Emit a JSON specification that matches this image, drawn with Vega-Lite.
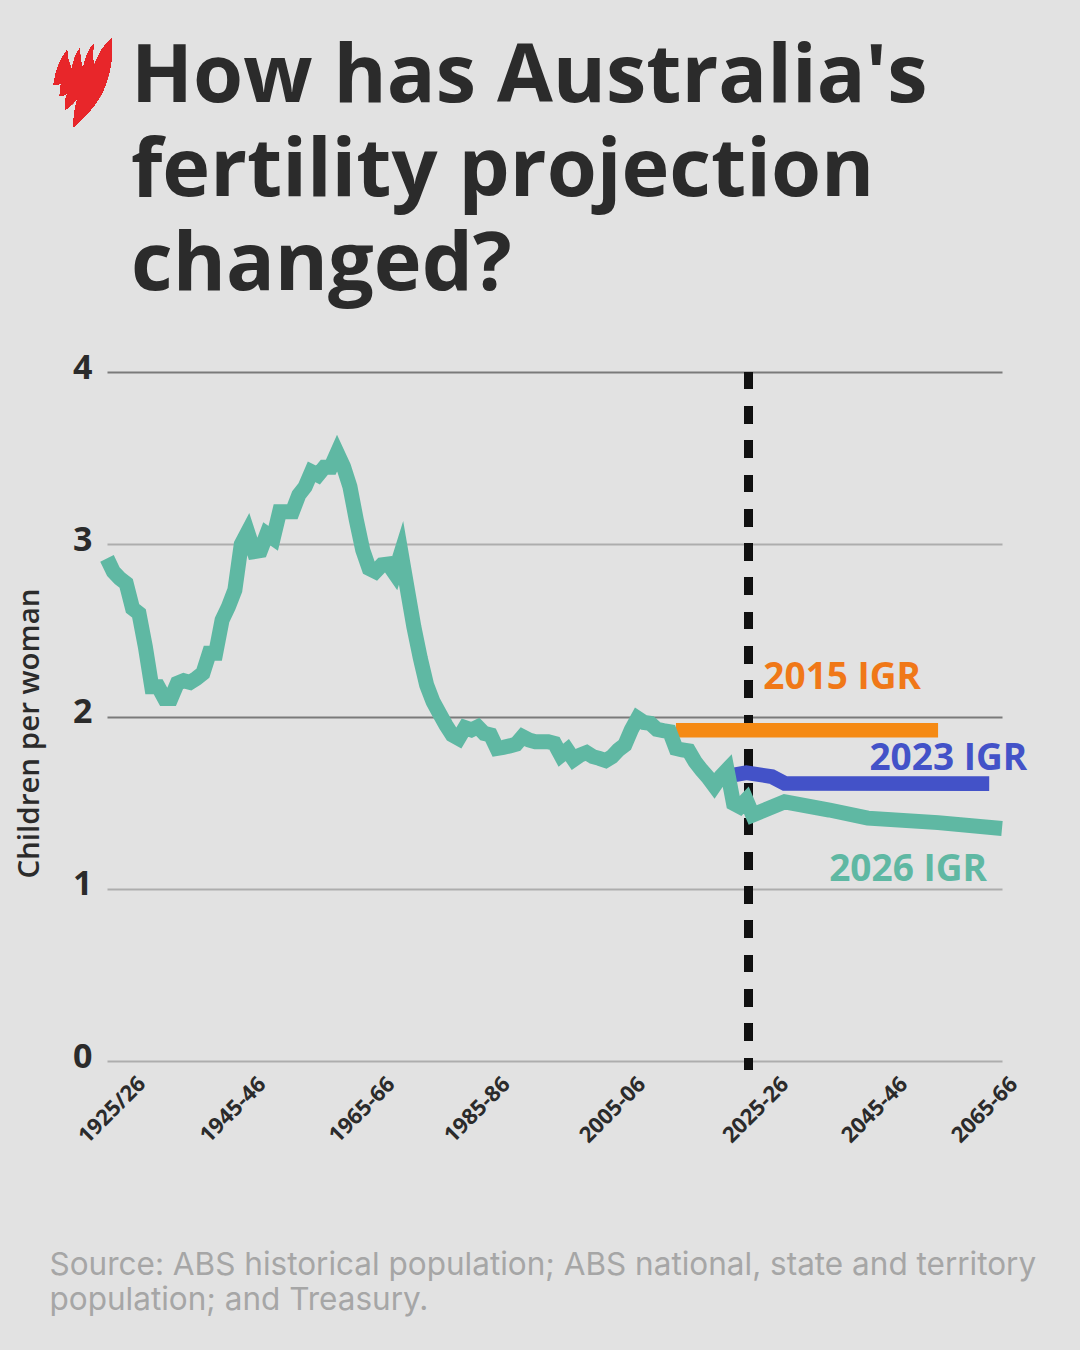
{
  "$schema": "https://vega.github.io/schema/vega-lite/v6.json",
  "description": "Australia's fertility projections, 2015, 2023 and 2026 IGR",
  "width": 895,
  "height": 689,
  "autosize": "none",
  "padding": {"left": 107, "top": 372, "right": 78, "bottom": 289},
  "background": "#e2e2e2",
  "config": {"view": {"stroke": null}},
  "title": {
    "text": ["How has Australia's", "fertility projection", "changed?"],
    "anchor": "start",
    "frame": "group",
    "dx": 24,
    "offset": -269,
    "font": "Open Sans",
    "fontWeight": 700,
    "fontSize": 81,
    "lineHeight": 94,
    "color": "#2b2b2b"
  },
  "datasets": {
    "fertility": [
      {"series": "2015 IGR", "year": 2014, "rate": 1.92},
      {"series": "2015 IGR", "year": 2055, "rate": 1.92},
      {"series": "2023 IGR", "year": 2023, "rate": 1.66},
      {"series": "2023 IGR", "year": 2025, "rate": 1.674},
      {"series": "2023 IGR", "year": 2029, "rate": 1.651},
      {"series": "2023 IGR", "year": 2031, "rate": 1.612},
      {"series": "2023 IGR", "year": 2063, "rate": 1.61},
      {"series": "2026 IGR", "year": 1925, "rate": 2.918},
      {"series": "2026 IGR", "year": 1926, "rate": 2.841},
      {"series": "2026 IGR", "year": 1927, "rate": 2.802},
      {"series": "2026 IGR", "year": 1928, "rate": 2.773},
      {"series": "2026 IGR", "year": 1929, "rate": 2.628},
      {"series": "2026 IGR", "year": 1930, "rate": 2.599},
      {"series": "2026 IGR", "year": 1931, "rate": 2.405},
      {"series": "2026 IGR", "year": 1932, "rate": 2.173},
      {"series": "2026 IGR", "year": 1933, "rate": 2.173},
      {"series": "2026 IGR", "year": 1934, "rate": 2.105},
      {"series": "2026 IGR", "year": 1935, "rate": 2.105},
      {"series": "2026 IGR", "year": 1936, "rate": 2.193},
      {"series": "2026 IGR", "year": 1937, "rate": 2.208},
      {"series": "2026 IGR", "year": 1938, "rate": 2.198},
      {"series": "2026 IGR", "year": 1939, "rate": 2.222},
      {"series": "2026 IGR", "year": 1940, "rate": 2.251},
      {"series": "2026 IGR", "year": 1941, "rate": 2.367},
      {"series": "2026 IGR", "year": 1942, "rate": 2.367},
      {"series": "2026 IGR", "year": 1943, "rate": 2.56},
      {"series": "2026 IGR", "year": 1944, "rate": 2.638},
      {"series": "2026 IGR", "year": 1945, "rate": 2.734},
      {"series": "2026 IGR", "year": 1946, "rate": 3.0},
      {"series": "2026 IGR", "year": 1947, "rate": 3.07},
      {"series": "2026 IGR", "year": 1948, "rate": 2.957},
      {"series": "2026 IGR", "year": 1949, "rate": 2.963},
      {"series": "2026 IGR", "year": 1950, "rate": 3.06},
      {"series": "2026 IGR", "year": 1951, "rate": 3.034},
      {"series": "2026 IGR", "year": 1952, "rate": 3.189},
      {"series": "2026 IGR", "year": 1953, "rate": 3.189},
      {"series": "2026 IGR", "year": 1954, "rate": 3.189},
      {"series": "2026 IGR", "year": 1955, "rate": 3.286},
      {"series": "2026 IGR", "year": 1956, "rate": 3.334},
      {"series": "2026 IGR", "year": 1957, "rate": 3.421},
      {"series": "2026 IGR", "year": 1958, "rate": 3.402},
      {"series": "2026 IGR", "year": 1959, "rate": 3.447},
      {"series": "2026 IGR", "year": 1960, "rate": 3.447},
      {"series": "2026 IGR", "year": 1961, "rate": 3.53},
      {"series": "2026 IGR", "year": 1962, "rate": 3.45},
      {"series": "2026 IGR", "year": 1963, "rate": 3.334},
      {"series": "2026 IGR", "year": 1964, "rate": 3.141},
      {"series": "2026 IGR", "year": 1965, "rate": 2.967},
      {"series": "2026 IGR", "year": 1966, "rate": 2.86},
      {"series": "2026 IGR", "year": 1967, "rate": 2.841},
      {"series": "2026 IGR", "year": 1968, "rate": 2.88},
      {"series": "2026 IGR", "year": 1969, "rate": 2.885},
      {"series": "2026 IGR", "year": 1970, "rate": 2.831},
      {"series": "2026 IGR", "year": 1971, "rate": 2.95},
      {"series": "2026 IGR", "year": 1972, "rate": 2.734},
      {"series": "2026 IGR", "year": 1973, "rate": 2.521},
      {"series": "2026 IGR", "year": 1974, "rate": 2.34},
      {"series": "2026 IGR", "year": 1975, "rate": 2.183},
      {"series": "2026 IGR", "year": 1976, "rate": 2.086},
      {"series": "2026 IGR", "year": 1977, "rate": 2.018},
      {"series": "2026 IGR", "year": 1978, "rate": 1.951},
      {"series": "2026 IGR", "year": 1979, "rate": 1.893},
      {"series": "2026 IGR", "year": 1980, "rate": 1.873},
      {"series": "2026 IGR", "year": 1981, "rate": 1.935},
      {"series": "2026 IGR", "year": 1982, "rate": 1.922},
      {"series": "2026 IGR", "year": 1983, "rate": 1.94},
      {"series": "2026 IGR", "year": 1984, "rate": 1.902},
      {"series": "2026 IGR", "year": 1985, "rate": 1.893},
      {"series": "2026 IGR", "year": 1986, "rate": 1.815},
      {"series": "2026 IGR", "year": 1987, "rate": 1.821},
      {"series": "2026 IGR", "year": 1988, "rate": 1.829},
      {"series": "2026 IGR", "year": 1989, "rate": 1.84},
      {"series": "2026 IGR", "year": 1990, "rate": 1.883},
      {"series": "2026 IGR", "year": 1991, "rate": 1.864},
      {"series": "2026 IGR", "year": 1992, "rate": 1.854},
      {"series": "2026 IGR", "year": 1993, "rate": 1.854},
      {"series": "2026 IGR", "year": 1994, "rate": 1.854},
      {"series": "2026 IGR", "year": 1995, "rate": 1.844},
      {"series": "2026 IGR", "year": 1996, "rate": 1.775},
      {"series": "2026 IGR", "year": 1997, "rate": 1.805},
      {"series": "2026 IGR", "year": 1998, "rate": 1.75},
      {"series": "2026 IGR", "year": 1999, "rate": 1.776},
      {"series": "2026 IGR", "year": 2000, "rate": 1.79},
      {"series": "2026 IGR", "year": 2001, "rate": 1.767},
      {"series": "2026 IGR", "year": 2002, "rate": 1.757},
      {"series": "2026 IGR", "year": 2003, "rate": 1.744},
      {"series": "2026 IGR", "year": 2004, "rate": 1.767},
      {"series": "2026 IGR", "year": 2005, "rate": 1.806},
      {"series": "2026 IGR", "year": 2006, "rate": 1.835},
      {"series": "2026 IGR", "year": 2007, "rate": 1.922},
      {"series": "2026 IGR", "year": 2008, "rate": 1.99},
      {"series": "2026 IGR", "year": 2009, "rate": 1.965},
      {"series": "2026 IGR", "year": 2010, "rate": 1.96},
      {"series": "2026 IGR", "year": 2011, "rate": 1.926},
      {"series": "2026 IGR", "year": 2012, "rate": 1.918},
      {"series": "2026 IGR", "year": 2013, "rate": 1.912},
      {"series": "2026 IGR", "year": 2014, "rate": 1.815},
      {"series": "2026 IGR", "year": 2015, "rate": 1.806},
      {"series": "2026 IGR", "year": 2016, "rate": 1.8},
      {"series": "2026 IGR", "year": 2017, "rate": 1.737},
      {"series": "2026 IGR", "year": 2018, "rate": 1.689},
      {"series": "2026 IGR", "year": 2019, "rate": 1.647},
      {"series": "2026 IGR", "year": 2020, "rate": 1.597},
      {"series": "2026 IGR", "year": 2021, "rate": 1.651},
      {"series": "2026 IGR", "year": 2022, "rate": 1.69},
      {"series": "2026 IGR", "year": 2023, "rate": 1.496},
      {"series": "2026 IGR", "year": 2024, "rate": 1.476},
      {"series": "2026 IGR", "year": 2025, "rate": 1.515},
      {"series": "2026 IGR", "year": 2026, "rate": 1.428},
      {"series": "2026 IGR", "year": 2031, "rate": 1.505},
      {"series": "2026 IGR", "year": 2038, "rate": 1.457},
      {"series": "2026 IGR", "year": 2044, "rate": 1.41},
      {"series": "2026 IGR", "year": 2055, "rate": 1.384},
      {"series": "2026 IGR", "year": 2065, "rate": 1.35}
    ],
    "seriesLabels": [
      {"series": "2015 IGR", "year": 2040, "rate": 2.225},
      {"series": "2023 IGR", "year": 2056.6, "rate": 1.752},
      {"series": "2026 IGR", "year": 2050.3, "rate": 1.107}
    ],
    "periods": [
      {"period": "1925/26", "labelYear": 1925.8},
      {"period": "1945-46", "labelYear": 1944.7},
      {"period": "1965-66", "labelYear": 1964.9},
      {"period": "1985-86", "labelYear": 1982.9},
      {"period": "2005-06", "labelYear": 2004.1},
      {"period": "2025-26", "labelYear": 2026.5},
      {"period": "2045-46", "labelYear": 2045.1},
      {"period": "2065-66", "labelYear": 2062.3}
    ]
  },
  "data": {"name": "fertility"},
  "layer": [
    {
      "mark": {"type": "rule", "color": "#111111", "strokeWidth": 8, "strokeDash": [17, 17.3]},
      "encoding": {
        "x": {
          "datum": 2025.3,
          "type": "quantitative",
          "scale": {"domain": [1925, 2065], "nice": false, "zero": false},
          "axis": {
            "domain": false,
            "ticks": false,
            "labels": false,
            "grid": false,
            "title": [
              "Source: ABS historical population; ABS national, state and territory",
              "population; and Treasury."
            ],
            "titleFont": "Inter",
            "titleFontWeight": 400,
            "titleFontSize": 31.5,
            "titleColor": "#a6a6a6",
            "titleLineHeight": 35,
            "titleAlign": "left",
            "titleAnchor": "start",
            "titleBaseline": "alphabetic",
            "titleX": -58,
            "titleY": 213
          }
        },
        "y": {
          "datum": 4,
          "type": "quantitative",
          "scale": {"domain": [0, 4], "nice": false},
          "axis": {
            "values": [0, 1, 2, 3, 4],
            "format": "d",
            "domain": false,
            "ticks": false,
            "grid": true,
            "gridWidth": 2,
            "gridColor": {
              "condition": {"test": "datum.value === 2 || datum.value === 4", "value": "#7a7a7a"},
              "value": "#adadad"
            },
            "labelFont": "Open Sans",
            "labelFontWeight": 700,
            "labelFontSize": 34,
            "labelColor": "#2b2b2b",
            "labelPadding": 15,
            "labelOffset": -4,
            "title": "Children per woman",
            "titleFont": "Open Sans",
            "titleFontWeight": 600,
            "titleFontSize": 29.5,
            "titleColor": "#2b2b2b",
            "titleAlign": "center",
            "titleX": -63,
            "titleY": 361
          }
        },
        "y2": {"datum": -0.05}
      }
    },
    {
      "mark": {"type": "line", "strokeJoin": "miter", "strokeCap": "butt", "strokeMiterLimit": 6},
      "encoding": {
        "x": {"field": "year", "type": "quantitative"},
        "y": {"field": "rate", "type": "quantitative"},
        "color": {
          "field": "series",
          "type": "nominal",
          "scale": {"domain": ["2015 IGR", "2023 IGR", "2026 IGR"], "range": ["#f58a14", "#4352c8", "#5fb8a3"]},
          "legend": null
        },
        "size": {
          "field": "series",
          "type": "ordinal",
          "scale": {"domain": ["2015 IGR", "2023 IGR", "2026 IGR"], "range": [14.5, 15, 17.5]},
          "legend": null
        }
      }
    },
    {
      "data": {"name": "seriesLabels"},
      "mark": {"type": "text", "font": "Open Sans", "fontWeight": 700, "fontSize": 37},
      "encoding": {
        "x": {"field": "year", "type": "quantitative"},
        "y": {"field": "rate", "type": "quantitative"},
        "text": {"field": "series"},
        "color": {
          "condition": {"test": "datum.series === '2015 IGR'", "value": "#f07818"},
          "field": "series",
          "type": "nominal",
          "legend": null
        }
      }
    },
    {
      "data": {"name": "periods"},
      "mark": {"type": "text", "font": "Open Sans", "fontWeight": 700, "fontSize": 22, "angle": 315, "color": "#2b2b2b", "dx": -34.6, "dy": 34.6},
      "encoding": {
        "x": {"field": "labelYear", "type": "quantitative"},
        "y": {"datum": 0, "type": "quantitative"},
        "text": {"field": "period"}
      }
    },
    {
      "mark": {
        "type": "point",
        "filled": true,
        "opacity": 1,
        "color": "#e8262a",
        "size": 7900,
        "shape": "M0.65,-1 Q0.68,-0.4 0.5,0.05 Q0.35,0.5 -0.21,1 Q-0.22,0.7 -0.12,0.35 Q-0.25,0.5 -0.4,0.61 Q-0.42,0.4 -0.34,0.22 Q-0.42,0.28 -0.52,0.3 Q-0.52,0.15 -0.49,0.01 Q-0.55,0.05 -0.66,0.05 Q-0.6,-0.4 -0.36,-0.72 Q-0.36,-0.5 -0.25,-0.28 Q-0.2,-0.6 -0.07,-0.77 Q-0.08,-0.55 0,-0.28 Q0.05,-0.65 0.24,-0.87 Q0.2,-0.65 0.24,-0.35 Q0.4,-0.8 0.65,-1 Z"
      },
      "encoding": {
        "x": {"datum": 1921.25, "type": "quantitative"},
        "y": {"datum": 5.68, "type": "quantitative"}
      }
    }
  ]
}
